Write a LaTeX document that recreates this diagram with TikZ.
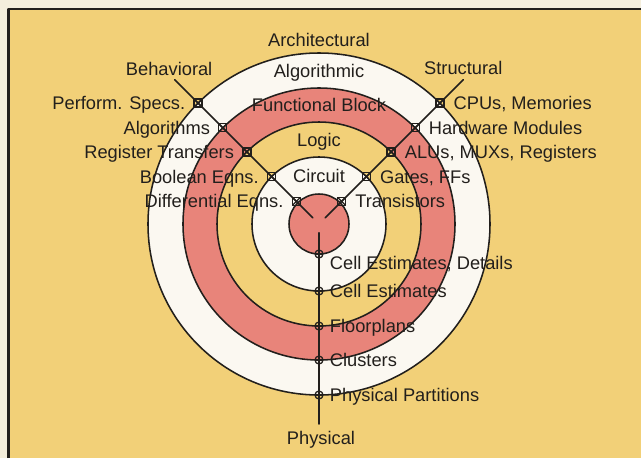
\documentclass[tikz,border=0pt]{standalone}
\usepackage{fontspec}
\setmainfont{Liberation Sans}
\usetikzlibrary{positioning}

\definecolor{bgyellow}{HTML}{F2D078}
\definecolor{ringpink}{HTML}{E8847A}
\definecolor{ringwhite}{HTML}{FBF8F1}
\definecolor{paper}{HTML}{F4EEDC}
\definecolor{ink}{HTML}{221F1C}

\tikzset{
  ring/.style={draw=ink, line width=1.1pt},
  axisline/.style={draw=ink, line width=1.1pt},
  sqmark/.style={draw=ink, line width=0.9pt, rectangle, minimum size=0.2cm, inner sep=0pt,
    path picture={\draw[ink, line width=0.8pt] (path picture bounding box.south west) -- (path picture bounding box.north east)
      (path picture bounding box.north west) -- (path picture bounding box.south east);}},
  cmark/.style={draw=ink, line width=0.9pt, circle, minimum size=0.2cm, inner sep=0pt,
    path picture={\draw[ink, line width=0.8pt] (path picture bounding box.west) -- (path picture bounding box.east);}},
  lab/.style={inner sep=0pt, text=ink, text height=0.33cm, text depth=0pt},
}

\begin{document}
\begin{tikzpicture}[line cap=round, line join=round, font=\fontsize{13}{15}\selectfont]
	\useasboundingbox (-7.975, -5.85) rectangle (8.05, 5.6);
	\fill[paper] (-7.975, -5.85) rectangle (8.05, 5.6);
	\fill[bgyellow] (-7.76, -5.85) rectangle (8.05, 5.375);
	\draw[ink, line width=1.8pt, line cap=butt] (-7.76, -5.85) -- (-7.76, 5.375) -- (8.05, 5.375);

	% the rings
	\coordinate (O) at (0, 0);
	\filldraw[ring, fill=ringwhite] (O) circle (4.275);
	\filldraw[ring, fill=ringpink] (O) circle (3.4);
	\filldraw[ring, fill=bgyellow] (O) circle (2.55);
	\filldraw[ring, fill=ringwhite] (O) circle (1.675);
	\filldraw[ring, fill=ringpink] (O) circle (0.75);

	\node[lab] (arch) at (90:4.6) {Architectural};
	\node[lab] (algo) at (90:3.84) {Algorithmic};
	\node[lab] (func) at (90:2.975) {Functional Block};
	\node[lab] (logic) at (90:2.11) {Logic};
	\node[lab] (circ) at (90:1.21) {Circuit};

	% the three axes
	\coordinate (Bin) at (135:0.22);
	\coordinate (Bout) at (135:5.1);
	\coordinate (Sin) at (45:0.22);
	\coordinate (Sout) at (45:5.1);
	\coordinate (Pin) at (270:0.22);
	\coordinate (Pout) at (270:5.0);
	\draw[axisline] (Bin) -- (Bout);
	\draw[axisline] (Sin) -- (Sout);
	\draw[axisline] (Pin) -- (Pout);
	\node[lab, above=0.1cm of Bout, xshift=-0.14cm] (behav) {Behavioral};
	\node[lab, above=0.13cm of Sout] (struct) {Structural};
	\node[lab, below=0.18cm of Pout, xshift=0.05cm] (phys) {Physical};

	% behavioral
	\node[sqmark] (b1) at (135:4.275) {};
	\node[sqmark] (b2) at (135:3.4) {};
	\node[sqmark] (b3) at (135:2.55) {};
	\node[sqmark] (b4) at (135:1.675) {};
	\node[sqmark] (b5) at (135:0.8) {};
	\node[lab, left=0.2cm of b1] (pspec) {Perform. Specs.};
	\node[lab, left=0.2cm of b2] (algs) {Algorithms};
	\node[lab, left=0.2cm of b3] (regt) {Register Transfers};
	\node[lab, left=0.2cm of b4] (bool) {Boolean Eqns.};
	\node[lab, left=0.2cm of b5] (diff) {Differential Eqns.};

	% structural
	\node[sqmark] (s1) at (45:4.275) {};
	\node[sqmark] (s2) at (45:3.4) {};
	\node[sqmark] (s3) at (45:2.55) {};
	\node[sqmark] (s4) at (45:1.675) {};
	\node[sqmark] (s5) at (45:0.8) {};
	\node[lab, right=0.22cm of s1] (cpus) {CPUs, Memories};
	\node[lab, right=0.22cm of s2] (hwmod) {Hardware Modules};
	\node[lab, right=0.22cm of s3] (alus) {ALUs, MUXs, Registers};
	\node[lab, right=0.22cm of s4] (gates) {Gates, FFs};
	\node[lab, right=0.22cm of s5] (trans) {Transistors};

	% physical
	\node[cmark] (p1) at (270:0.75) {};
	\node[cmark] (p2) at (270:1.675) {};
	\node[cmark] (p3) at (270:2.55) {};
	\node[cmark] (p4) at (270:3.4) {};
	\node[cmark] (p5) at (270:4.275) {};
	\node[lab, right=0.15cm of p1, yshift=-0.22cm] (celld) {Cell Estimates, Details};
	\node[lab, right=0.15cm of p2] (cell) {Cell Estimates};
	\node[lab, right=0.15cm of p3] (floor) {Floorplans};
	\node[lab, right=0.15cm of p4] (clus) {Clusters};
	\node[lab, right=0.15cm of p5] (ppart) {Physical Partitions};
\end{tikzpicture}
\end{document}
